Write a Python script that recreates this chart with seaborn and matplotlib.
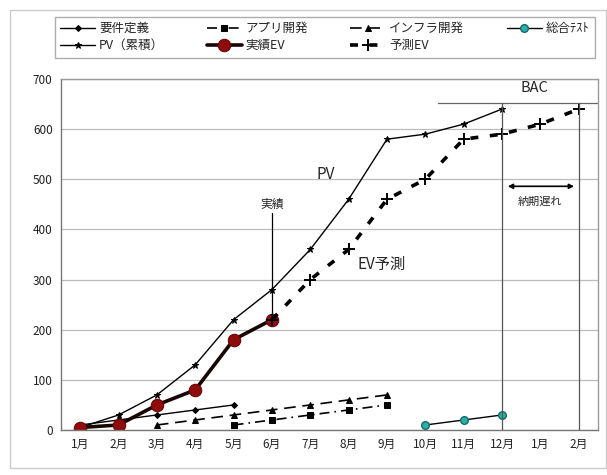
import numpy as np
import pandas as pd
import matplotlib
matplotlib.use("Agg")
import matplotlib.pyplot as plt
from matplotlib.patches import Rectangle
import seaborn as sns

# ---- data -------------------------------------------------------------
months = ["1月", "2月", "3月", "4月", "5月", "6月", "7月", "8月",
          "9月", "10月", "11月", "12月", "1月", "2月"]
nan = np.nan
youken   = [10, 20, 30, 40, 50, nan, nan, nan, nan, nan, nan, nan, nan, nan]
app      = [nan, nan, nan, nan, 10, 20, 30, 40, 50, nan, nan, nan, nan, nan]
infra    = [nan, nan, 10, 20, 30, 40, 50, 60, 70, nan, nan, nan, nan, nan]
sougou   = [nan, nan, nan, nan, nan, nan, nan, nan, nan, 10, 20, 30, nan, nan]
pv       = [5, 30, 70, 130, 220, 280, 360, 460, 580, 590, 610, 640, nan, nan]
ev_act   = [5, 10, 50, 80, 180, 220, nan, nan, nan, nan, nan, nan, nan, nan]
ev_fcst  = [nan, nan, nan, nan, nan, 220, 300, 360, 460, 500, 580, 590, 610, 640]
bac = 652

pos = np.arange(len(months))

sns.set_style("white")
plt.rcParams["font.family"] = ["Noto Sans CJK JP", "DejaVu Sans"]

fig = plt.figure(figsize=(6.07, 4.75), dpi=100)
ax = fig.add_axes([0.1005, 0.0947, 0.8845, 0.739])


def draw(vals, label, **kw):
    df = pd.DataFrame({"x": pos, "y": vals}).dropna()
    sns.lineplot(data=df, x="x", y="y", ax=ax, label=label, sort=True, **kw)


draw(youken, "要件定義", color="black", lw=1.0, marker="D", markersize=3,
     markeredgecolor="black")
draw(app, "アプリ開発", color="black", lw=1.2, linestyle=(0, (6, 3, 1, 3)),
     marker="s", markersize=4.5, markeredgecolor="black")
draw(infra, "インフラ開発", color="black", lw=1.2, linestyle=(0, (7, 4)),
     marker="^", markersize=4.5, markeredgecolor="black")
draw(sougou, "総合ﾃｽﾄ", color="black", lw=1.0, marker="o", markersize=5.5,
     markerfacecolor="#2ab0a8", markeredgecolor="#136a66", markeredgewidth=1.0)
draw(pv, "PV（累積）", color="black", lw=1.0, marker="*", markersize=5,
     markeredgecolor="black")
draw(ev_act, "実績EV", color="#1a0505", lw=2.6, marker="o", markersize=9,
     markerfacecolor="#8e0c0c", markeredgecolor="#6a0505")
draw(ev_fcst, "予測EV", color="black", lw=2.6, linestyle=(0, (2.2, 3.2)),
     marker="+", markersize=9, markeredgewidth=1.4, markeredgecolor="black")

# ---- axes -------------------------------------------------------------
ax.set_xlim(-0.5, len(months) - 0.5)
ax.set_ylim(0, 700)
ax.set_xticks(pos)
ax.set_xticklabels(months)
ax.set_yticks(range(0, 701, 100))
ax.set_xlabel("")
ax.set_ylabel("")
ax.tick_params(axis="both", labelsize=8.5, length=0, pad=6, colors="#222222")
ax.set_xticks(np.arange(-0.5, len(months), 1), minor=True)
ax.tick_params(axis="x", which="minor", direction="in", length=3, color="#999999")
ax.yaxis.grid(True, color="#bbbbbb", lw=0.9)
ax.xaxis.grid(False)
for name, sp in ax.spines.items():
    sp.set_visible(True)
    sp.set_color("#999999" if name in ("top", "right") else "#777777")
    sp.set_linewidth(1.0)

# ---- annotations ------------------------------------------------------
ax.plot([9.32, 13.5], [bac, bac], color="#666666", lw=0.9)
ax.plot([11, 11], [0, bac], color="#555555", lw=0.9)
ax.plot([13, 13], [0, bac], color="#555555", lw=0.9)
ax.text(11.85, 668, "BAC", ha="center", va="bottom", fontsize=10.5)
ax.annotate("", xy=(11.15, 486), xytext=(12.88, 486),
            arrowprops=dict(arrowstyle="<|-|>", color="black", lw=1.2,
                            mutation_scale=7, shrinkA=0, shrinkB=0))
ax.text(12.0, 455, "納期遅れ", ha="center", va="center", fontsize=8)
ax.plot([5, 5], [232, 432], color="black", lw=0.9)
ax.text(5, 450, "実績", ha="center", va="center", fontsize=8.5)
ax.text(6.4, 510, "PV", ha="center", va="center", fontsize=11)
ax.text(7.85, 330, "EV予測", ha="center", va="center", fontsize=11)

# ---- legend -----------------------------------------------------------
handles, labels = ax.get_legend_handles_labels()
ax.get_legend().remove()
order = ["要件定義", "PV（累積）", "アプリ開発", "実績EV", "インフラ開発", "予測EV", "総合ﾃｽﾄ"]
hmap = dict(zip(labels, handles))
leg = fig.legend([hmap[k] for k in order], order, ncol=4,
                 loc="upper left", bbox_to_anchor=(0.09, 0.965),
                 fontsize=9, frameon=True, fancybox=False, edgecolor="#999999",
                 handlelength=2.8, handletextpad=0.3, columnspacing=3.4,
                 labelspacing=0.3, borderpad=0.45, borderaxespad=0.0)
leg.get_frame().set_linewidth(1.0)

# chart-area border
fig.patches.append(Rectangle((0.016, 0.015), 0.982, 0.964, transform=fig.transFigure,
                             fill=False, edgecolor="#cccccc", lw=1.0))

fig.savefig("out.png", dpi=100)
